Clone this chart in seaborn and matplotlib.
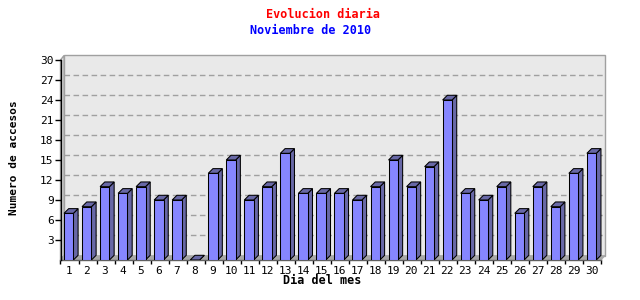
import matplotlib
matplotlib.use("Agg")
import matplotlib.pyplot as plt
import seaborn as sns
from matplotlib.patches import Polygon, Rectangle

# ---- data ----
days = [str(d) for d in range(1, 31)]
visits = [7, 8, 11, 10, 11, 9, 9, 0, 13, 15, 9, 11, 16, 10, 10,
          10, 9, 11, 15, 11, 14, 24, 10, 9, 11, 7, 11, 8, 13, 16]
y_ticks = [3, 6, 9, 12, 15, 18, 21, 24, 27, 30]
title = "Evolucion diaria"
subtitle = "Noviembre de 2010"
xlabel = "Dia del mes"
ylabel = "Numero de accesos"

plt.rcParams['font.family'] = ['DejaVu Sans Mono']

W, H = 640, 300
fig = plt.figure(figsize=(6.4, 3.0), dpi=100)
fig.patch.set_facecolor("white")
L, R, T, B = 60.5, 605, 55, 260
ax = fig.add_axes([L / W, 1 - B / H, (R - L) / W, (B - T) / H])
sx = 18.03
sy = 6.667
x0 = -0.455
xR = x0 + (R - L) / sx

front = "#8686FF"
dark = "#6868A6"
wall = "#E9E9E9"
grey = "#A0A0A0"
floor = "#A8A8A8"
lw = 0.75

sns.barplot(x=days, y=visits, color=front, saturation=1, width=0.52,
            edgecolor="black", linewidth=lw, ax=ax, zorder=5)

ax.set_xlim(x0, xR)
ax.set_ylim(0, (B - T) / sy)
ax.set_facecolor("white")

dxw, dyw = 3.5 / sx, 4.5 / sy
# back wall
ax.add_patch(Rectangle((x0 + dxw, dyw), xR - (x0 + dxw), 30, facecolor=wall,
                       edgecolor=grey, linewidth=1.0, zorder=0.5, clip_on=False))
# left wall
ax.add_patch(Polygon([(x0, 0), (x0 + dxw, dyw), (x0 + dxw, 30 + dyw), (x0, 30)],
                     closed=True, facecolor=wall, edgecolor=grey, linewidth=1.0,
                     zorder=0.6, clip_on=False))
# floor
ax.add_patch(Polygon([(x0, 0), (x0 + dxw, dyw), (xR, dyw), (xR - dxw, 0)],
                     closed=True, facecolor=floor, edgecolor=floor, linewidth=0.5,
                     zorder=0.7, clip_on=False))
# grid lines on back wall
for yv in y_ticks[:-1]:
    ax.plot([x0 + dxw, xR], [yv + dyw, yv + dyw], color=grey, lw=1.0,
            dashes=(4, 2.5), zorder=0.8)

# 3D sides and tops of bars
dx, dy = 4.7 / sx, 4.7 / sy
for p in list(ax.patches):
    if not isinstance(p, Rectangle) or p.get_zorder() != 5:
        continue
    x, w, h = p.get_x(), p.get_width(), p.get_height()
    side = Polygon([(x + w, 0), (x + w + dx, dy), (x + w + dx, h + dy), (x + w, h)],
                   closed=True, facecolor=dark, edgecolor="black", linewidth=lw, zorder=4.9)
    top = Polygon([(x, h), (x + dx, h + dy), (x + w + dx, h + dy), (x + w, h)],
                  closed=True, facecolor=dark, edgecolor="black", linewidth=lw, zorder=4.9)
    ax.add_patch(side)
    ax.add_patch(top)

# spines
for s in ["top", "right"]:
    ax.spines[s].set_visible(False)
ax.spines["left"].set_bounds(0, 30)
ax.spines["left"].set_color("black")
ax.spines["left"].set_linewidth(1.0)
ax.spines["left"].set_zorder(6)
ax.spines["bottom"].set_bounds(x0, x0 + 30)
ax.spines["bottom"].set_color("#606060")
ax.spines["bottom"].set_linewidth(1.0)

ax.set_yticks(y_ticks)
ax.set_yticklabels([str(v) for v in y_ticks])
ax.tick_params(axis="y", direction="out", length=4, width=1, pad=1,
               labelsize=8, colors="black")

ax.set_xticks([x0 + k for k in range(31)])
ax.set_xticklabels([])
ax.set_xticks(range(len(days)), minor=True)
ax.set_xticklabels(days, minor=True)
ax.tick_params(axis="x", which="major", direction="out", length=3, width=1, color="black")
ax.tick_params(axis="x", which="minor", length=0, pad=4, labelsize=8)
ax.set_xlabel("")
ax.set_ylabel("")

fig.text(323 / W, 1 - 14 / H, title, color="#FF0000", fontsize=8.5, fontweight="bold",
         ha="center", va="center")
fig.text(311 / W, 1 - 31 / H, subtitle, color="#0000FF", fontsize=8.5, fontweight="bold",
         ha="center", va="center")
fig.text(322 / W, 1 - 281 / H, xlabel, color="black", fontsize=8.5, fontweight="bold",
         ha="center", va="center")
fig.text(14 / W, 1 - 158 / H, ylabel, color="black", fontsize=8, fontweight="bold",
         ha="center", va="center", rotation=90)

fig.savefig("out.png", dpi=100)
